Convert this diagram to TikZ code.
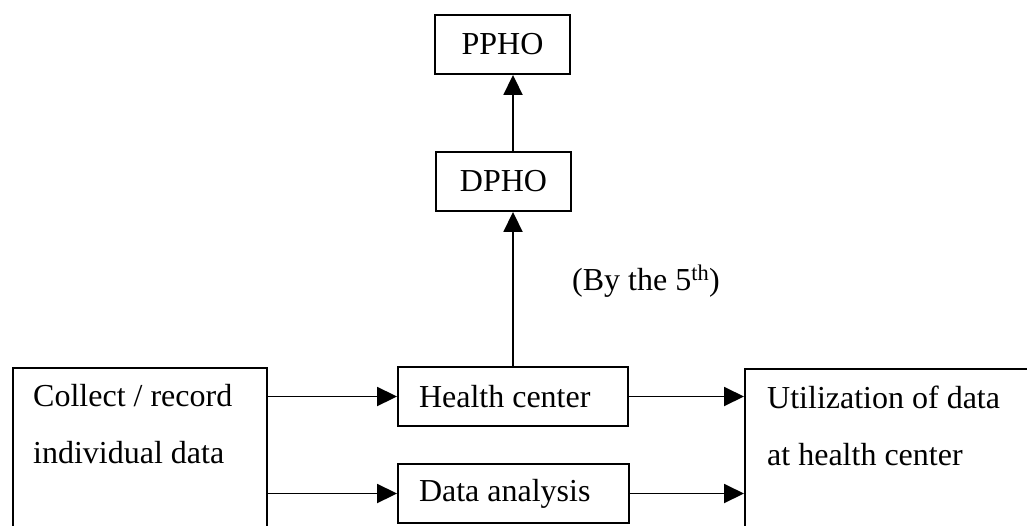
\documentclass[tikz,border=0pt]{standalone}
\usepackage{fontspec}
\setmainfont{Liberation Serif}
\usetikzlibrary{arrows.meta}
\begin{document}
\begin{tikzpicture}[x=1pt,y=-1pt,
  box/.style={draw, line width=1.9pt, inner sep=0pt},
  arr/.style={line width=1.9pt, -{Triangle[length=20pt,width=19pt]}},
  lbl/.style={font=\fontsize{32}{38}\selectfont},
  lbox/.style={box, lbl, minimum height=59pt, inner xsep=21pt, align=flush left}]
\useasboundingbox (0,0) rectangle (1027,525);
\clip (0,0) rectangle (1027,525);
\node[box, anchor=north west, minimum width=254pt, minimum height=220pt] (lb) at (12,367) {};
\node[box, anchor=north west, minimum width=300pt, minimum height=220pt] (ub) at (744,368) {};
\node[lbox, text width=188pt] (hc) at (513,396.5) {Health center};
\node[lbox, text width=189pt] (da) at (513.5,493.5) {Data analysis};
\node[box, lbl, minimum width=135pt, minimum height=59pt] (dpho) at (503.5,181.5) {DPHO};
\node[box, lbl, minimum width=135pt, minimum height=59pt] (ppho) at (502.5,44.5) {PPHO};
\node[lbl, anchor=base west, inner sep=0pt] (t1) at (33,406) {Collect / record};
\node[lbl, anchor=base west, inner sep=0pt] (t2) at (33,463) {individual data};
\node[lbl, anchor=base west, inner sep=0pt] (u1) at (767,408) {Utilization of data};
\node[lbl, anchor=base west, inner sep=0pt] (u2) at (767,465) {at health center};
\node[lbl, anchor=base west, inner sep=0pt] (by) at (572,290) {(By the 5\textsuperscript{th})};
\draw[arr] (hc.west -| lb.east) -- (hc.west);
\draw[arr] (da.west -| lb.east) -- (da.west);
\draw[arr] (hc.east) -- (hc.east -| ub.west);
\draw[arr] (da.east) -- (da.east -| ub.west);
\draw[arr] (hc.north) -- (hc.north |- dpho.south);
\draw[arr] (dpho.north -| hc.north) -- (ppho.south -| hc.north);
\end{tikzpicture}
\end{document}
